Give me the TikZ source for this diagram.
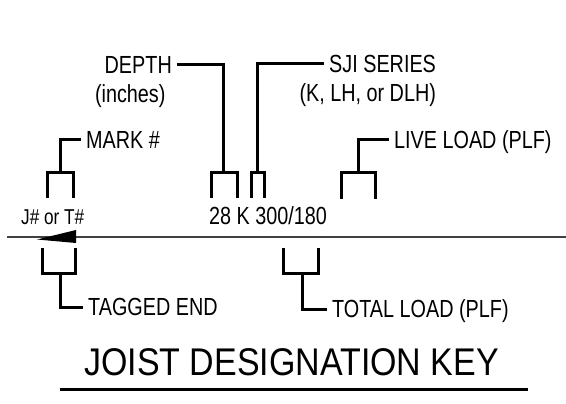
\documentclass[tikz,border=0pt]{standalone}
\usepackage{fontspec}
\setmainfont{Liberation Sans}[FakeStretch=0.8]
\newfontfamily\titlefont{Liberation Sans}[FakeStretch=0.88]
\usetikzlibrary{positioning}

\begin{document}
\begin{tikzpicture}[
  x=1pt, y=-1pt,
  lbl/.style={font=\fontsize{24.75}{29}\selectfont, inner xsep=5pt, inner ysep=0pt,
              text height=17.7pt, text depth=0pt},
  desig/.style={font=\fontsize{24.75}{29}\selectfont, inner sep=0pt},
  brk/.style={line width=3pt, line join=miter},
  joist/.style={line width=1.5pt, black!75},
  keytitle/.style={font=\titlefont\fontsize{38.6}{46}\selectfont, inner sep=0pt}
]
\useasboundingbox (0,0) rectangle (566,404);

% designation on the joist
\node[desig, font=\fontsize{21.5}{26}\selectfont, anchor=base west] (jt) at (21,225) {J\# or T\#};
\node[desig, anchor=base west] (code) at (209,224) {28 K 300/180};
\draw[joist] (7,237) -- (566,237);
\fill (37,239.5) -- (76,230) -- (76,243) -- cycle;

% labels above
\node[lbl, anchor=west] (mark)   at (81,140)  {MARK \#};
\node[lbl, anchor=east] (depth)  at (177,65)  {DEPTH};
\node[lbl, below=10.3pt of depth, xshift=-8pt] (inches) {(inches)};
\node[lbl, anchor=west] (sji)    at (324,64)  {SJI SERIES};
\node[lbl, below=10.3pt of sji.south east, anchor=north east] (types) {(K, LH, or DLH)};
\node[lbl, anchor=west] (live)   at (389,140) {LIVE LOAD (PLF)};

% labels below
\node[lbl, anchor=west] (tagged) at (83,307)  {TAGGED END};
\node[lbl, anchor=west] (total)  at (327,309) {TOTAL LOAD (PLF)};

% brackets and leaders
\draw[brk] (mark.west) -| (60,173);
\draw[brk] (47,198) |- (73,173) -- (73,198);
\draw[brk] (depth.east) -| (223,173);
\draw[brk] (211,198) |- (237,173) -- (237,198);
\draw[brk] (sji.west) -| (257,173);
\draw[brk] (251,198) |- (264,173) -- (264,198);
\draw[brk] (live.west) -| (358,173);
\draw[brk] (341,199) |- (375,173) -- (375,199);
\draw[brk] (tagged.west) -| (60,273);
\draw[brk] (42,248) |- (75,273) -- (75,248);
\draw[brk] (total.west) -| (302,273);
\draw[brk] (283,248) |- (318,273) -- (318,248);

% title
\node[keytitle, anchor=base] (keyname) at (291.5,375) {JOIST DESIGNATION KEY};
\draw[brk] (60,389) -- (528,389);
\end{tikzpicture}
\end{document}
